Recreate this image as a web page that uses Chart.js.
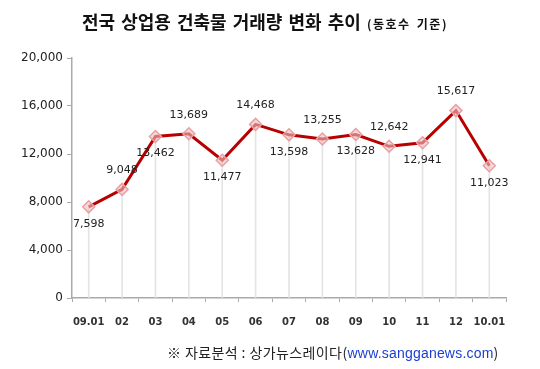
<!DOCTYPE html>
<html>
<head>
<meta charset="utf-8">
<script src="https://cdn.jsdelivr.net/npm/chart.js@4"></script>
<style>
    body { margin: 0; background: #fff; }
    #wrap { position: relative; width: 540px; height: 369px; }
    #title {
        position: absolute; left: 82px; top: 8px; white-space: nowrap;
        font-family: "Noto Sans CJK KR"; font-weight: bold; font-size: 18px; color: #111; word-spacing: 2px;
    }
    #title small { font-size: 12px; letter-spacing: 1.5px; }
    #source {
        position: absolute; left: 167px; top: 342px; white-space: nowrap;
        font-family: "Noto Sans CJK KR"; font-size: 14px; color: #222; letter-spacing: 0.4px;
    }
    #source span { color: #1a3fd0; font-family: "Liberation Sans"; letter-spacing: 0.2px; }
</style>
</head>
<body>
<div id="wrap">
    <canvas id="chart" width="540" height="369"></canvas>
    <div id="title">전국 상업용 건축물 거래량 변화 추이 <small>(동호수 기준)</small></div>
    <div id="source">※ 자료분석 : 상가뉴스레이다(<span>www.sangganews.com</span>)</div>
</div>
<script>
// Data
const months = ['09.01', '02', '03', '04', '05', '06', '07', '08', '09', '10', '11', '12', '10.01'];
const volumes = [7598, 9048, 13462, 13689, 11477, 14468, 13598, 13255, 13628, 12642, 12941, 15617, 11023];
// label above (true) or below (false) the point
const labelAbove = [false, true, false, true, false, true, false, true, false, true, false, true, false];
const yTicks = [0, 4000, 8000, 12000, 16000, 20000];

const fmt = v => v.toLocaleString('en-US');

// Draw value labels next to each point
const valueLabels = {
    id: 'valueLabels',
    afterDatasetsDraw(chart) {
        const ctx = chart.ctx;
        const meta = chart.getDatasetMeta(1);
        ctx.save();
        ctx.font = '11px "DejaVu Sans"';
        ctx.fillStyle = '#222';
        ctx.textAlign = 'center';
        ctx.textBaseline = 'middle';
        meta.data.forEach((pt, i) => {
            const dy = labelAbove[i] ? -19 : 17;
            ctx.fillText(fmt(volumes[i]), pt.x, pt.y + dy);
        });
        ctx.restore();
    }
};

new Chart(document.getElementById('chart'), {
    data: {
        labels: months,
        datasets: [
            {
                // thin drop lines from each point to the axis
                type: 'bar',
                data: volumes,
                backgroundColor: '#e4e4e4',
                barThickness: 1,
                order: 2
            },
            {
                type: 'line',
                data: volumes,
                borderColor: '#b80000',
                borderWidth: 3,
                pointStyle: 'rectRot',
                pointRadius: 6,
                pointBackgroundColor: 'rgba(240,190,190,0.6)',
                pointBorderColor: '#e8a0a4',
                pointBorderWidth: 1.5,
                tension: 0,
                order: 1
            }
        ]
    },
    options: {
        responsive: false,
        animation: false,
        layout: { padding: { top: 58, right: 34, left: 0, bottom: 0 } },
        plugins: { legend: { display: false }, tooltip: { enabled: false } },
        scales: {
            x: {
                offset: true,
                grid: { display: true, drawOnChartArea: false, offset: true, tickLength: 4, color: '#aaa' },
                border: { color: '#aaa', width: 1.5 },
                ticks: { color: '#333', font: { family: 'DejaVu Sans', size: 10, weight: 'bold' }, padding: 14, maxRotation: 0, autoSkip: false },
                afterFit: s => { s.height = 71; }
            },
            y: {
                min: 0,
                max: 20000,
                afterBuildTicks: s => { s.ticks = yTicks.map(v => ({ value: v })); },
                grid: { display: true, drawOnChartArea: false, tickLength: 5, color: '#aaa' },
                border: { color: '#aaa', width: 1.5 },
                ticks: { color: '#222', font: { family: 'DejaVu Sans', size: 12 }, padding: 4, callback: v => fmt(v) },
                afterFit: s => { s.width = 72; }
            }
        }
    },
    plugins: [valueLabels]
});
</script>
</body>
</html>
